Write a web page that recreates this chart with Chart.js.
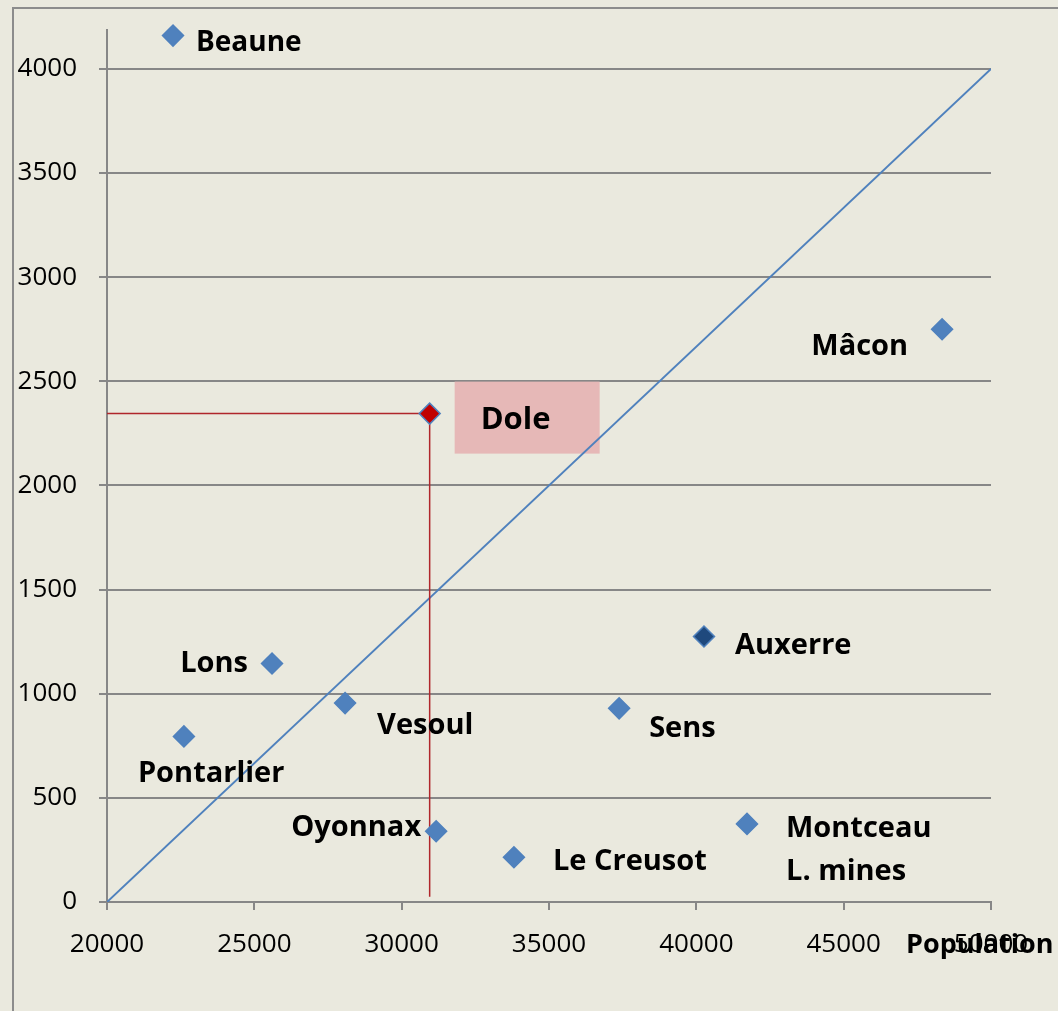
<!DOCTYPE html>
<html>
<head>
<meta charset="utf-8">
<script src="https://cdn.jsdelivr.net/npm/chart.js@4"></script>
<style>
  html, body { margin: 0; padding: 0; background: #eae9de; }
  canvas { display: block; }
</style>
</head>
<body>
<canvas id="chart" width="1058" height="1011"></canvas>
<script>
// data
const cities = ["Beaune", "Mâcon", "Dole", "Auxerre", "Lons", "Vesoul", "Sens", "Pontarlier", "Oyonnax", "Le Creusot", "Montceau L. mines"];
const population = [22240, 48340, 30950, 40260, 25600, 28080, 37380, 22610, 31170, 33810, 41720];
const values = [4160, 2750, 2345, 1275, 1145, 955, 930, 795, 340, 215, 375];
const diagX = [20000, 50000];
const diagY = [0, 4000];
const xTicks = [20000, 25000, 30000, 35000, 40000, 45000, 50000];
const yTicks = [0, 500, 1000, 1500, 2000, 2500, 3000, 3500, 4000];
const highlight = "Dole";

// label placement (pixel offsets from the point)
const labelPos = {
  "Beaune":     { dx: 23,  dy: 15, align: "left" },
  "Mâcon":      { dx: -34, dy: 26, align: "right" },
  "Auxerre":    { dx: 31,  dy: 18, align: "left" },
  "Lons":       { dx: -24, dy: 8,  align: "right" },
  "Vesoul":     { dx: 32,  dy: 31, align: "left" },
  "Sens":       { dx: 30,  dy: 29, align: "left" },
  "Pontarlier": { dx: -46, dy: 46, align: "left" },
  "Oyonnax":    { dx: -15, dy: 5,  align: "right" },
  "Le Creusot": { dx: 39,  dy: 13, align: "left" },
  "Montceau L. mines": { dx: 39, dy: 13, align: "left", lines: ["Montceau", "L. mines"], lh: 43 }
};

const GRID = "#878787";
const BLUE = "#4f81bd";
const LABEL_FONT = "bold 29px 'Open Sans'";

const cityColor = n => n === highlight ? "#c00000" : n === "Auxerre" ? "#1f497d" : BLUE;

const framePlugin = {
  id: "frame",
  beforeDraw(chart) {
    const ctx = chart.ctx;
    ctx.save();
    ctx.fillStyle = "#eae9de";
    ctx.fillRect(0, 0, chart.width, chart.height);
    ctx.strokeStyle = "#8c8c8c";
    ctx.lineWidth = 2;
    ctx.strokeRect(13, 8, 2000, 2000);
    ctx.restore();
  },
  beforeDatasetsDraw(chart) {
    // pink box behind the highlighted city
    const i = cities.indexOf(highlight);
    const p = chart.getDatasetMeta(0).data[i];
    const ctx = chart.ctx;
    ctx.save();
    ctx.fillStyle = "#e6b8b7";
    ctx.fillRect(p.x + 25, p.y - 32, 145, 72);
    ctx.restore();
  },
  afterDatasetsDraw(chart) {
    const ctx = chart.ctx;
    const meta = chart.getDatasetMeta(0);
    ctx.save();
    ctx.fillStyle = "#000";
    ctx.font = LABEL_FONT;
    ctx.textBaseline = "alphabetic";
    cities.forEach((c, i) => {
      const p = meta.data[i];
      if (c === highlight) {
        ctx.font = "bold 31px 'Open Sans'";
        ctx.textAlign = "left";
        ctx.fillText(c, p.x + 51, p.y + 15);
        ctx.font = LABEL_FONT;
        return;
      }
      const lp = labelPos[c];
      ctx.textAlign = lp.align;
      ctx.font = c === "Beaune" ? "bold 28px 'Open Sans'" : LABEL_FONT;
      (lp.lines || [c]).forEach((t, k) => ctx.fillText(t, p.x + lp.dx, p.y + lp.dy + k * (lp.lh || 0)));
    });
    // axis title
    ctx.textAlign = "left";
    ctx.font = "bold 27px 'Open Sans'";
    ctx.fillText("Population", 906, 953);
    ctx.restore();
  }
};

new Chart(document.getElementById("chart"), {
  type: "scatter",
  data: {
    datasets: [
      {
        label: "Villes",
        data: cities.map((c, i) => ({ x: population[i], y: values[i] })),
        clip: false,
        pointStyle: "rectRot",
        pointRadius: 10.5,
        pointHoverRadius: 10.5,
        pointBorderWidth: 1.5,
        pointBackgroundColor: ctx => cityColor(cities[ctx.dataIndex]),
        pointBorderColor: BLUE
      },
      {
        label: "guide",
        type: "line",
        data: [
          { x: diagX[0], y: values[cities.indexOf(highlight)] },
          { x: population[cities.indexOf(highlight)], y: values[cities.indexOf(highlight)] },
          { x: population[cities.indexOf(highlight)], y: 25 }
        ],
        borderColor: "#b0262b",
        borderWidth: 1.5,
        pointRadius: 0,
        fill: false,
        tension: 0
      },
      {
        label: "diagonale",
        type: "line",
        data: diagX.map((x, i) => ({ x, y: diagY[i] })),
        borderColor: BLUE,
        borderWidth: 2,
        pointRadius: 0,
        fill: false
      }
    ]
  },
  options: {
    responsive: false,
    animation: false,
    events: [],
    layout: { padding: { top: 30, right: 67, left: 0, bottom: 0 } },
    plugins: { legend: { display: false }, tooltip: { enabled: false } },
    scales: {
      x: {
        type: "linear",
        min: 20000,
        max: 50000,
        afterFit: s => { s.height = 109; s.paddingLeft = 0; s.paddingRight = 0; },
        afterBuildTicks: s => { s.ticks = xTicks.map(v => ({ value: v })); },
        grid: { drawOnChartArea: false, color: GRID, lineWidth: 2, tickLength: 8 },
        border: { color: GRID, width: 2 },
        ticks: { color: "#000", padding: 19, maxRotation: 0, callback: v => String(v), font: { family: "'Open Sans'", size: 26 } }
      },
      y: {
        min: 0,
        max: 4187,
        afterFit: s => { s.width = 107; s.paddingTop = 0; s.paddingBottom = 0; },
        afterBuildTicks: s => { s.ticks = yTicks.map(v => ({ value: v })); },
        grid: { color: GRID, lineWidth: 2, tickLength: 8 },
        border: { color: GRID, width: 2 },
        ticks: { color: "#000", padding: 22, callback: v => String(v), font: { family: "'Open Sans'", size: 26 } }
      }
    }
  },
  plugins: [framePlugin]
});
</script>
</body>
</html>
